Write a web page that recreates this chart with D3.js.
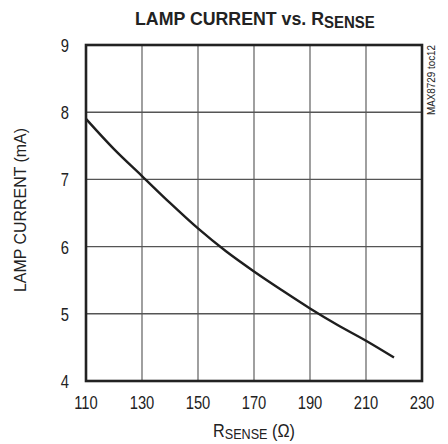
<!DOCTYPE html>
<html>
<head>
<meta charset="utf-8">
<script src="https://cdn.jsdelivr.net/npm/d3@7"></script>
<style>
  body { margin: 0; background: #fff; }
  text { font-family: "Liberation Sans", Arial, sans-serif; fill: #222; }
</style>
</head>
<body>
<svg id="chart" width="448" height="444"></svg>
<script>
// values
var rsense = [110, 120, 130, 140, 150, 160, 170, 180, 190, 200, 210, 220];
var current = [7.90, 7.45, 7.05, 6.65, 6.27, 5.93, 5.63, 5.35, 5.08, 4.83, 4.60, 4.35];
var xTicks = [110, 130, 150, 170, 190, 210, 230];
var yTicks = [4, 5, 6, 7, 8, 9];

var svg = d3.select('#chart');
var plotL = 86, plotR = 422, plotT = 45, plotB = 381;
var narrow = 0.82; // the original uses a condensed face

var x = d3.scaleLinear().domain([110, 230]).range([plotL, plotR]);
var y = d3.scaleLinear().domain([4, 9]).range([plotB, plotT]);

// grid
var grid = svg.append('g');
grid.selectAll('.vx').data(xTicks.slice(1, -1)).enter().append('line')
	.attr('x1', d => x(d)).attr('x2', d => x(d))
	.attr('y1', plotT).attr('y2', plotB)
	.attr('stroke', '#777').attr('stroke-width', 1.4);
grid.selectAll('.hy').data(yTicks.slice(1, -1)).enter().append('line')
	.attr('x1', plotL).attr('x2', plotR)
	.attr('y1', d => y(d)).attr('y2', d => y(d))
	.attr('stroke', '#555').attr('stroke-width', 1.4);

// curve
var line = d3.line().x((d, i) => x(rsense[i])).y(d => y(d)).curve(d3.curveMonotoneX);
svg.append('path').datum(current)
	.attr('d', line)
	.attr('fill', 'none')
	.attr('stroke', '#1e1e1e')
	.attr('stroke-width', 2.4);

// frame
svg.append('rect')
	.attr('x', plotL).attr('y', plotT)
	.attr('width', plotR - plotL).attr('height', plotB - plotT)
	.attr('fill', 'none').attr('stroke', '#222').attr('stroke-width', 2.6);

// tick labels
svg.selectAll('.xt').data(xTicks).enter().append('text')
	.attr('transform', d => 'translate(' + x(d) + ',409) scale(' + narrow + ',1)')
	.attr('text-anchor', 'middle')
	.style('font-size', '18px')
	.text(d => d);
svg.selectAll('.yt').data(yTicks).enter().append('text')
	.attr('transform', d => 'translate(69,' + (y(d) + 7) + ') scale(' + narrow + ',1)')
	.attr('text-anchor', 'end')
	.style('font-size', '18px')
	.text(d => d);

// title
var title = svg.append('text')
	.style('font-size', '19px').style('font-weight', 'bold');
title.append('tspan').text('LAMP CURRENT vs. R');
title.append('tspan').attr('dy', 3).style('font-size', '16px').text('SENSE');
var tw = title.node().getComputedTextLength();
title.attr('transform', 'translate(135,25) scale(' + (240 / tw) + ',1)');

// x label
var xl = svg.append('text')
	.style('font-size', '18px');
xl.append('tspan').text('R');
xl.append('tspan').attr('dy', 2).style('font-size', '14px').text('SENSE');
xl.append('tspan').attr('dy', -2).text(' (Ω)');
var xw = xl.node().getComputedTextLength();
xl.attr('transform', 'translate(213,437) scale(' + (82 / xw) + ',1)');

// y label
svg.append('text')
	.attr('transform', 'translate(26,210) rotate(-90)')
	.attr('text-anchor', 'middle')
	.style('font-size', '16px')
	.attr('textLength', 164).attr('lengthAdjust', 'spacingAndGlyphs')
	.text('LAMP CURRENT (mA)');

// side tag
svg.append('text')
	.attr('transform', 'translate(435,80) rotate(-90)')
	.attr('text-anchor', 'middle')
	.style('font-size', '10px')
	.attr('textLength', 70).attr('lengthAdjust', 'spacingAndGlyphs')
	.text('MAX8729 toc12');
</script>
</body>
</html>
